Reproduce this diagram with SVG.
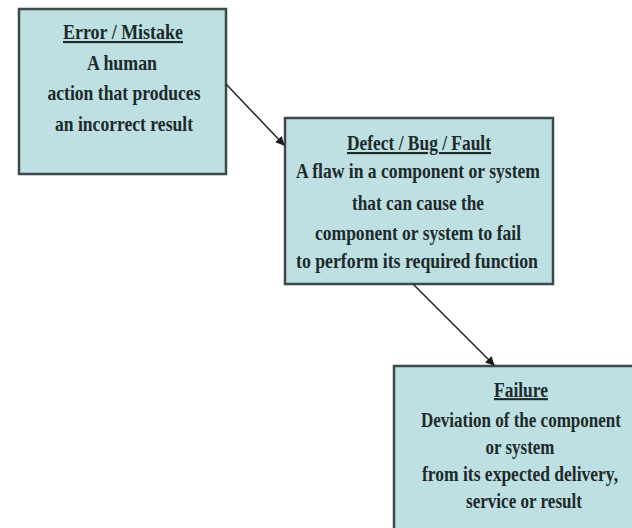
<svg xmlns="http://www.w3.org/2000/svg" width="632" height="528" viewBox="0 0 632 528">
<style>
.box{fill:#bfe0e3;stroke:#3c4a4a;stroke-width:2.5}
.t{font-family:"Liberation Serif","Times New Roman",serif;font-weight:bold;font-size:21.5px;fill:#1c2a2a;text-anchor:middle}
.u{text-decoration:underline}
.c{stroke:#2a2a2a;stroke-width:1.6;fill:none}
</style>
<defs>
<marker id="ah" viewBox="0 0 10 10" refX="9" refY="5" markerWidth="9" markerHeight="9" markerUnits="userSpaceOnUse" orient="auto">
<path d="M0,0 L10,5 L0,10 z" fill="#1a1a1a"/>
</marker>
</defs>
<rect width="632" height="528" fill="#ffffff"/>
<g id="error">
<rect class="box" x="19" y="9" width="207" height="165"/>
<text class="t u" x="123" y="39" textLength="120" lengthAdjust="spacingAndGlyphs">Error / Mistake</text>
<text class="t" x="122" y="70" textLength="70" lengthAdjust="spacingAndGlyphs">A human</text>
<text class="t" x="124" y="100" textLength="153" lengthAdjust="spacingAndGlyphs">action that produces</text>
<text class="t" x="124" y="131" textLength="138" lengthAdjust="spacingAndGlyphs">an incorrect result</text>
</g>
<g id="defect">
<rect class="box" x="285" y="118" width="268" height="166"/>
<text class="t u" x="419" y="150" textLength="144" lengthAdjust="spacingAndGlyphs">Defect / Bug / Fault</text>
<text class="t" x="418" y="178" textLength="244" lengthAdjust="spacingAndGlyphs">A flaw in a component or system</text>
<text class="t" x="418" y="210" textLength="132" lengthAdjust="spacingAndGlyphs">that can cause the</text>
<text class="t" x="418" y="240" textLength="206" lengthAdjust="spacingAndGlyphs">component or system to fail</text>
<text class="t" x="417" y="268" textLength="242" lengthAdjust="spacingAndGlyphs">to perform its required function</text>
</g>
<g id="failure">
<rect class="box" x="394" y="366" width="240" height="164"/>
<g transform="translate(521,0) scale(0.8,1)">
<text class="t u" x="0" y="397" textLength="67.5" lengthAdjust="spacingAndGlyphs">Failure</text>
<text class="t" x="0" y="427" textLength="250" lengthAdjust="spacingAndGlyphs">Deviation of the component</text>
<text class="t" x="-1.25" y="454" textLength="86" lengthAdjust="spacingAndGlyphs">or system</text>
<text class="t" x="-1.25" y="481" textLength="245" lengthAdjust="spacingAndGlyphs">from its expected delivery,</text>
<text class="t" x="3.75" y="508" textLength="145" lengthAdjust="spacingAndGlyphs">service or result</text>
</g>
</g>
<g id="connectors">
<line class="c" x1="226" y1="84" x2="284" y2="145" marker-end="url(#ah)"/>
<line class="c" x1="413" y1="284" x2="494" y2="365" marker-end="url(#ah)"/>
</g>
</svg>
